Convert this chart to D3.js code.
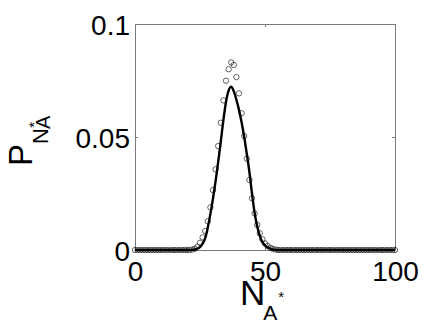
<!DOCTYPE html>
<html>
<head>
<meta charset="utf-8">
<script src="https://cdn.jsdelivr.net/npm/d3@7"></script>
<style>
  body { margin: 0; background: #fff; }
  svg { display: block; font-family: "Liberation Sans", Arial, Helvetica, sans-serif; }
</style>
</head>
<body>
<div id="chart"></div>
<script>
// N_A* values, 0..100
var nValues = d3.range(0, 101);

// simulated probabilities (circles)
var simProb = [
  0, 0, 0, 0, 0, 0, 0, 0, 0, 0,
  0, 0, 0, 0, 0, 0, 0, 0, 0, 0,
  0, 0, 0.0002, 0.0006, 0.0015, 0.0032, 0.0056, 0.0084, 0.0127, 0.0189,
  0.0265, 0.0357, 0.046, 0.0563, 0.0662, 0.0749, 0.080, 0.083, 0.0819, 0.0765,
  0.0693, 0.0605, 0.0504, 0.0404, 0.031, 0.0229, 0.0162, 0.0111, 0.0074, 0.0047,
  0.0029, 0.0018, 0.001, 0.0005, 0.0002, 0, 0, 0, 0, 0,
  0, 0, 0, 0, 0, 0, 0, 0, 0, 0,
  0, 0, 0, 0, 0, 0, 0, 0, 0, 0,
  0, 0, 0, 0, 0, 0, 0, 0, 0, 0,
  0, 0, 0, 0, 0, 0, 0, 0, 0, 0,
  0
];

// theory curve (solid line)
var theoryProb = [
  0, 0, 0, 0, 0, 0, 0, 0, 0, 0,
  0, 0, 0, 0, 0, 0, 0, 0, 0, 0,
  0, 0, 0.0001, 0.0002, 0.0006, 0.0013, 0.0028, 0.0052, 0.0100, 0.0160,
  0.0228, 0.0305, 0.0390, 0.0480, 0.0575, 0.0655, 0.0705, 0.0723, 0.0702, 0.0665,
  0.0620, 0.0565, 0.0500, 0.0425, 0.0345, 0.0250, 0.0165, 0.0105, 0.0062, 0.0035,
  0.0020, 0.0012, 0.0006, 0.0003, 0.0001, 0, 0, 0, 0, 0,
  0, 0, 0, 0, 0, 0, 0, 0, 0, 0,
  0, 0, 0, 0, 0, 0, 0, 0, 0, 0,
  0, 0, 0, 0, 0, 0, 0, 0, 0, 0,
  0, 0, 0, 0, 0, 0, 0, 0, 0, 0,
  0
];

var xTicks = [0, 50, 100];
var yTicks = [0, 0.05, 0.1];
var yTickLabels = ["0", "0.05", "0.1"];

var W = 436, H = 328;
var margin = {top: 24, right: 41, bottom: 78, left: 135},
    width = W - margin.left - margin.right,
    height = H - margin.top - margin.bottom;

var svg = d3.select("#chart").append("svg")
    .attr("width", W)
    .attr("height", H);

var g = svg.append("g")
    .attr("transform", "translate(" + margin.left + "," + margin.top + ")");

// scales
var xScale = d3.scaleLinear().domain([0, 100]).range([0, width]);
var yScale = d3.scaleLinear().domain([0, 0.1]).range([height, 0]);

var axisColor = "#7a7a7a";
var tickLen = 3;

// box + inward ticks on all four sides
function styleAxis(sel) {
  sel.select(".domain").attr("stroke", axisColor).attr("stroke-width", 1);
  sel.selectAll(".tick line").attr("stroke", axisColor);
  sel.selectAll(".tick text")
    .attr("fill", "#000")
    .style("font-size", "28px");
}

var xAxisB = g.append("g")
    .attr("transform", "translate(0," + height + ")")
    .call(d3.axisBottom(xScale).tickValues(xTicks).tickSizeInner(-tickLen).tickSizeOuter(0).tickPadding(11))
    .call(styleAxis);
xAxisB.selectAll(".tick text").attr("dy", "0.72em");

g.append("g")
    .call(d3.axisTop(xScale).tickValues(xTicks).tickSizeInner(-tickLen).tickSizeOuter(0).tickFormat(""))
    .call(styleAxis);

g.append("g")
    .call(d3.axisLeft(yScale).tickValues(yTicks).tickSizeInner(-tickLen).tickSizeOuter(0).tickPadding(5)
      .tickFormat(function(d, i) { return yTickLabels[i]; }))
    .call(styleAxis)
    .selectAll(".tick text").attr("dy", "0.36em");

g.append("g")
    .attr("transform", "translate(" + width + ",0)")
    .call(d3.axisRight(yScale).tickValues(yTicks).tickSizeInner(-tickLen).tickSizeOuter(0).tickFormat(""))
    .call(styleAxis);

// circles (simulation)
g.append("g").selectAll("circle")
    .data(nValues)
    .enter().append("circle")
    .attr("cx", function(d) { return xScale(d); })
    .attr("cy", function(d, i) { return yScale(simProb[i]); })
    .attr("r", 2.7)
    .attr("fill", "none")
    .attr("stroke", "#000")
    .attr("stroke-width", 0.6);

// theory line
var line = d3.line()
    .curve(d3.curveMonotoneX)
    .x(function(d) { return xScale(d); })
    .y(function(d, i) { return yScale(theoryProb[i]); });

g.append("path")
    .datum(nValues)
    .attr("d", line)
    .attr("fill", "none")
    .attr("stroke", "#000")
    .attr("stroke-width", 2.4)
    .attr("stroke-linejoin", "round");

// x label  N_A*
var xl = svg.append("text")
    .attr("x", 240)
    .attr("y", 305)
    .attr("fill", "#000");
xl.append("tspan").style("font-size", "35px").text("N");
xl.append("tspan").style("font-size", "21px").attr("dx", -2).attr("dy", 15).text("A");
xl.append("tspan").style("font-size", "15px").attr("dx", 1).attr("dy", -18).text("*");

// y label  P_{N_A*}
var yl = svg.append("text")
    .attr("transform", "rotate(-90)")
    .attr("x", -166)
    .attr("y", 32)
    .attr("fill", "#000");
yl.append("tspan").style("font-size", "33px").text("P");
yl.append("tspan").style("font-size", "22px").attr("dy", 16).text("N");
yl.append("tspan").style("font-size", "20px").attr("dx", -1).attr("dy", 2).text("A");
yl.append("tspan").style("font-size", "15px").attr("dx", -12).attr("dy", -11).text("*");
</script>
</body>
</html>
